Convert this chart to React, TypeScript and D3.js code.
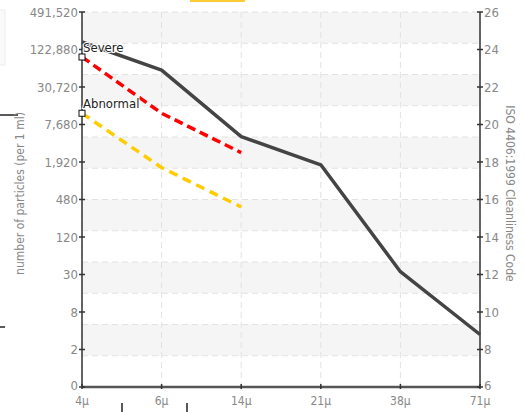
import React from 'react';
import * as d3 from 'd3';

const CATEGORIES = ['4μ', '6μ', '14μ', '21μ', '38μ', '71μ'];
// ISO 4406 code values
const MEASURED = [24.4, 22.9, 19.35, 17.85, 12.15, 8.8];
const SEVERE = [23.6, 20.6, 18.5];
const ABNORMAL = [20.6, 17.7, 15.6];
const CODE_TICKS = [6, 8, 10, 12, 14, 16, 18, 20, 22, 24, 26];
const PARTICLE_LABELS = ['0', '2', '8', '30', '120', '480', '1,920', '7,680', '30,720', '122,880', '491,520'];
const BAND_COUNT = 12;

const W = 524;
const H = 412;
const left = 82;
const right = 480;
const top = 12;
const bottom = 387;
const FONT = '"Liberation Sans Narrow", "Arial Narrow", "DejaVu Sans Condensed", sans-serif';

const App: React.FC = () => {
  const x = d3.scalePoint<string>().domain(CATEGORIES).range([left, right]);
  const y = d3.scaleLinear().domain([6, 26]).range([bottom, top]);
  const band = d3.scaleLinear().domain([0, BAND_COUNT]).range([top, bottom]);

  const line = d3.line<number>()
    .x((_, i) => x(CATEGORIES[i]) as number)
    .y(d => y(d));

  const bands = d3.range(BAND_COUNT);

  return (
    <div style={{ position: 'absolute', left: 0, top: 0 }}>
      <svg width={W} height={H} style={{ display: 'block', background: '#fff' }}>
        {/* page leftovers */}
        <rect x={-2} y={10} width={7} height={55} fill="#fafafa" stroke="#eee" />
        <rect x={190} y={0} width={55} height={2} fill="#ffcc33" />
        <line x1={0} x2={18} y1={115} y2={115} stroke="#222" strokeWidth={1.5} />
        <line x1={0} x2={5} y1={327} y2={327} stroke="#222" strokeWidth={1.5} />
        <line x1={122} x2={122} y1={403} y2={412} stroke="#222" strokeWidth={1.5} />
        <line x1={187} x2={187} y1={403} y2={412} stroke="#222" strokeWidth={1.5} />

        {/* bands */}
        {bands.map(i => (
          <rect key={'b' + i} x={left} width={right - left} y={band(i)} height={band(i + 1) - band(i)}
            fill={i % 2 === 0 ? '#f5f5f5' : '#ffffff'} />
        ))}
        {d3.range(BAND_COUNT + 1).map(i => (
          <line key={'h' + i} x1={left} x2={right} y1={band(i)} y2={band(i)}
            stroke="#e2e2e2" strokeDasharray="6,4" />
        ))}
        {CATEGORIES.map(c => (
          <line key={'v' + c} x1={x(c)} x2={x(c)} y1={top} y2={bottom}
            stroke="#e2e2e2" strokeDasharray="6,4" />
        ))}

        {/* axes */}
        <line x1={left} x2={left} y1={top} y2={bottom} stroke="#333" strokeWidth={1.5} />
        <line x1={right} x2={right} y1={top} y2={bottom} stroke="#333" strokeWidth={1.5} />
        <line x1={left} x2={right} y1={bottom} y2={bottom} stroke="#555" strokeWidth={2.5} />

        {CODE_TICKS.map((t, i) => (
          <g key={'t' + t}>
            <line x1={left - 3} x2={left + 3} y1={y(t)} y2={y(t)} stroke="#333" strokeWidth={1.5} />
            <text x={left - 4} y={i === 0 ? y(t) - 2 : y(t)} dy="0.35em" textAnchor="end" fontFamily={FONT}
              fontSize={13} fill="#888">{PARTICLE_LABELS[i]}</text>
            <line x1={right - 3} x2={right + 3} y1={y(t)} y2={y(t)} stroke="#333" strokeWidth={1.5} />
            <text x={right + 4} y={i === 0 ? y(t) - 2 : y(t)} dy="0.35em" textAnchor="start" fontFamily={FONT}
              fontSize={13} fill="#888">{t}</text>
          </g>
        ))}
        {CATEGORIES.map(c => (
          <g key={'x' + c}>
            <line x1={x(c)} x2={x(c)} y1={bottom - 3} y2={bottom + 2} stroke="#333" strokeWidth={1.5} />
            <text x={x(c)} y={bottom + 18} textAnchor="middle" fontFamily={FONT} fontSize={12} fill="#888">{c}</text>
          </g>
        ))}

        <text transform={`translate(24,${(top + bottom) / 2 - 6}) rotate(-90)`} textAnchor="middle"
          fontFamily={FONT} fontSize={12} fill="#888">number of particles (per 1 ml)</text>
        <text transform={`translate(506,${(top + bottom) / 2 - 6}) rotate(90)`} textAnchor="middle"
          fontFamily={FONT} fontSize={12} fill="#888">ISO 4406:1999 Cleanliness Code</text>

        {/* series */}
        <path d={line(MEASURED) as string} fill="none" stroke="#444" strokeWidth={3.5} strokeLinejoin="round" />
        <path d={line(SEVERE) as string} fill="none" stroke="#ff0000" strokeWidth={3.5} strokeDasharray="9,5" />
        <path d={line(ABNORMAL) as string} fill="none" stroke="#ffcc00" strokeWidth={3.5} strokeDasharray="9,6" />

        {[{ v: SEVERE[0], label: 'Severe' }, { v: ABNORMAL[0], label: 'Abnormal' }].map(m => (
          <g key={m.label}>
            <rect x={(x(CATEGORIES[0]) as number) - 3} y={y(m.v) - 3} width={6} height={6}
              fill="#fff" stroke="#111" strokeWidth={1} />
            <text x={(x(CATEGORIES[0]) as number) + 1} y={y(m.v) - 5} fontFamily={FONT} fontSize={13}
              fill="#222" stroke="#fff" strokeWidth={2} paintOrder="stroke">{m.label}</text>
          </g>
        ))}
      </svg>
    </div>
  );
};

export default App;
